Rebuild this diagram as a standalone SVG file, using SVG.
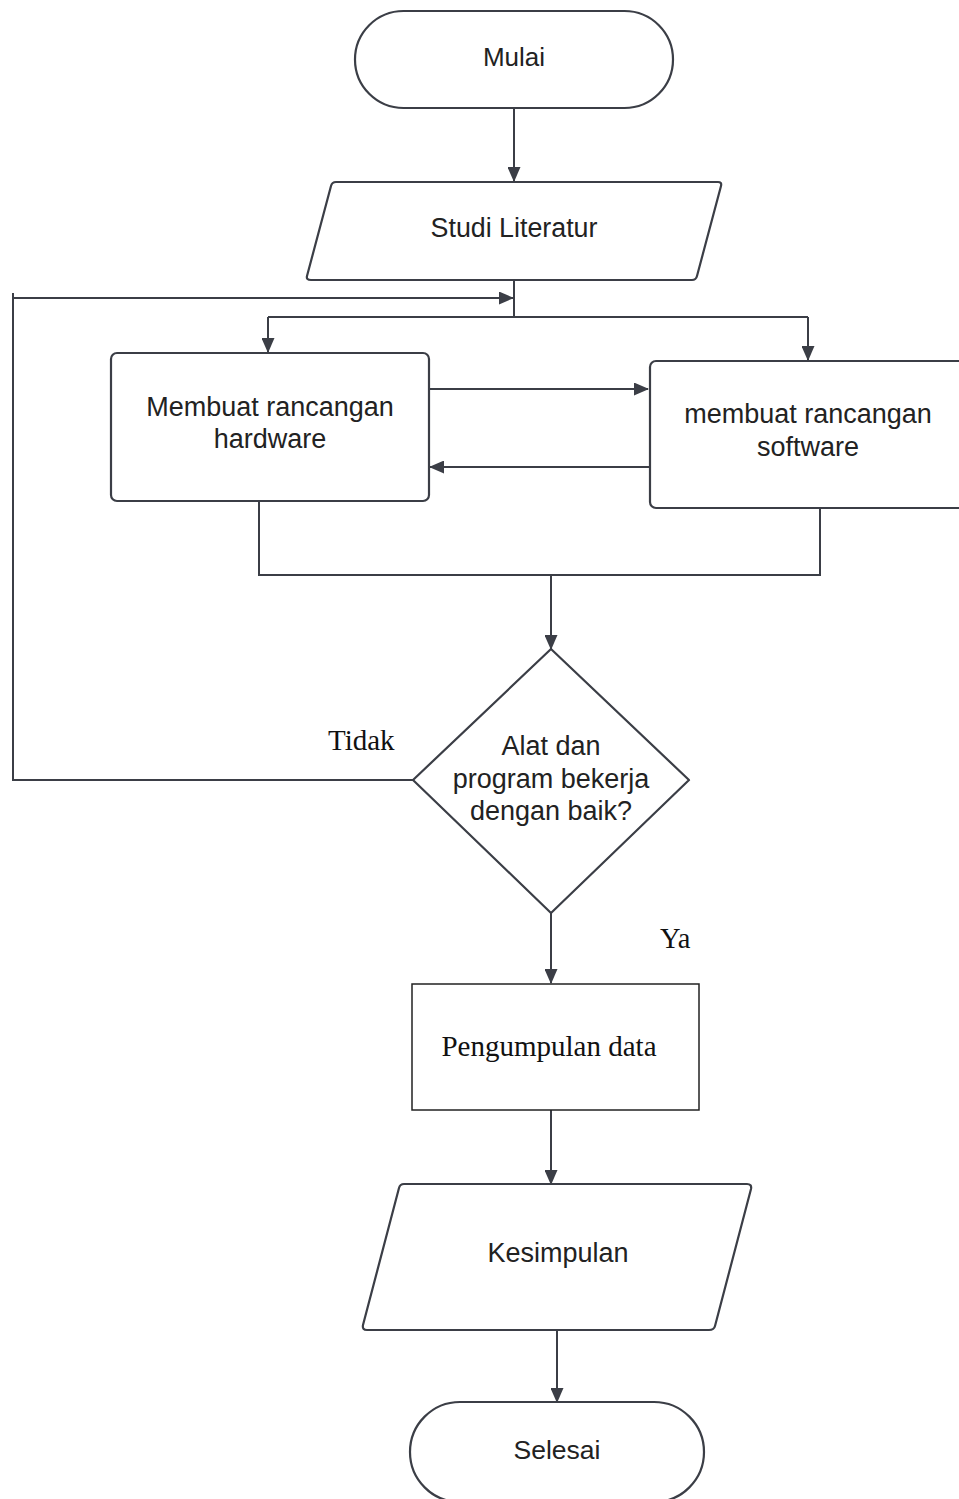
<svg xmlns="http://www.w3.org/2000/svg" width="959" height="1499" viewBox="0 0 959 1499">
<style>
.shape{fill:#fff;stroke:#3b3e46;stroke-width:2.2;stroke-linejoin:round}
.line{fill:none;stroke:#3b3e46;stroke-width:2}
.sans{font-family:"Liberation Sans",Arial,sans-serif;fill:#222;text-anchor:middle}
.serif{font-family:"Liberation Serif","Times New Roman",serif;fill:#111}
</style>
<defs>
<marker id="arr" viewBox="0 0 15 13" refX="14" refY="6.5" markerWidth="15" markerHeight="13" markerUnits="userSpaceOnUse" orient="auto">
<path d="M0,0 L15,6.5 L0,13 Z" fill="#3b3e46"/>
</marker>
</defs>
<rect width="959" height="1499" fill="#fff"/>
<g id="connectors">
<line class="line" x1="514" y1="108" x2="514" y2="181" marker-end="url(#arr)"/>
<line class="line" x1="514" y1="280" x2="514" y2="317"/>
<polyline class="line" points="413,780 13,780 13,293"/>
<line class="line" x1="13" y1="298" x2="513" y2="298" marker-end="url(#arr)"/>
<line class="line" x1="268" y1="317" x2="808" y2="317"/>
<line class="line" x1="268" y1="317" x2="268" y2="352" marker-end="url(#arr)"/>
<line class="line" x1="808" y1="317" x2="808" y2="360" marker-end="url(#arr)"/>
<line class="line" x1="429" y1="389" x2="648" y2="389" marker-end="url(#arr)"/>
<line class="line" x1="649" y1="467" x2="430" y2="467" marker-end="url(#arr)"/>
<polyline class="line" points="259,501 259,575 820,575 820,508"/>
<line class="line" x1="551" y1="575" x2="551" y2="649" marker-end="url(#arr)"/>
<line class="line" x1="551" y1="913" x2="551" y2="983" marker-end="url(#arr)"/>
<line class="line" x1="551" y1="1110" x2="551" y2="1184" marker-end="url(#arr)"/>
<line class="line" x1="557" y1="1330" x2="557" y2="1402" marker-end="url(#arr)"/>
<text class="serif" x="328" y="750" font-size="29">Tidak</text>
<text class="serif" x="660" y="948" font-size="28.5">Ya</text>
</g>
<g id="mulai">
<rect class="shape" x="355" y="11" width="318" height="97" rx="48.5"/>
<text class="sans" x="514" y="66" font-size="26">Mulai</text>
</g>
<g id="studi">
<path class="shape" d="M336,182 L718,182 Q722,182 721,186 L697,276 Q696,280 692,280 L311,280 Q306,280 307,276 L331,186 Q332,182 336,182 Z"/>
<text class="sans" x="514" y="237" font-size="26.8">Studi Literatur</text>
</g>
<g id="hardware">
<rect class="shape" x="111" y="353" width="318" height="148" rx="6"/>
<text class="sans" x="270" y="416" font-size="27">Membuat rancangan</text>
<text class="sans" x="270" y="448" font-size="27">hardware</text>
</g>
<g id="software">
<rect class="shape" x="650" y="361" width="330" height="147" rx="6"/>
<text class="sans" x="808" y="423" font-size="27">membuat rancangan</text>
<text class="sans" x="808" y="456" font-size="27">software</text>
</g>
<g id="decision">
<path class="shape" d="M551,649 L689,780 L551,913 L413,780 Z"/>
<text class="sans" x="551" y="755" font-size="27">Alat dan</text>
<text class="sans" x="551" y="788" font-size="27">program bekerja</text>
<text class="sans" x="551" y="820" font-size="27">dengan baik?</text>
</g>
<g id="pengumpulan">
<rect x="412" y="984" width="287" height="126" fill="#fff" stroke="#222" stroke-width="1.5"/>
<text class="serif" x="549" y="1056" font-size="29" text-anchor="middle">Pengumpulan data</text>
</g>
<g id="kesimpulan">
<path class="shape" d="M404,1184 L747,1184 Q752,1184 751,1189 L715,1326 Q714,1330 709,1330 L367,1330 Q362,1330 363,1325 L399,1188 Q400,1184 404,1184 Z"/>
<text class="sans" x="558" y="1262" font-size="27">Kesimpulan</text>
</g>
<g id="selesai">
<rect class="shape" x="410" y="1402" width="294" height="100" rx="50"/>
<text class="sans" x="557" y="1459" font-size="26.5">Selesai</text>
</g>
</svg>
